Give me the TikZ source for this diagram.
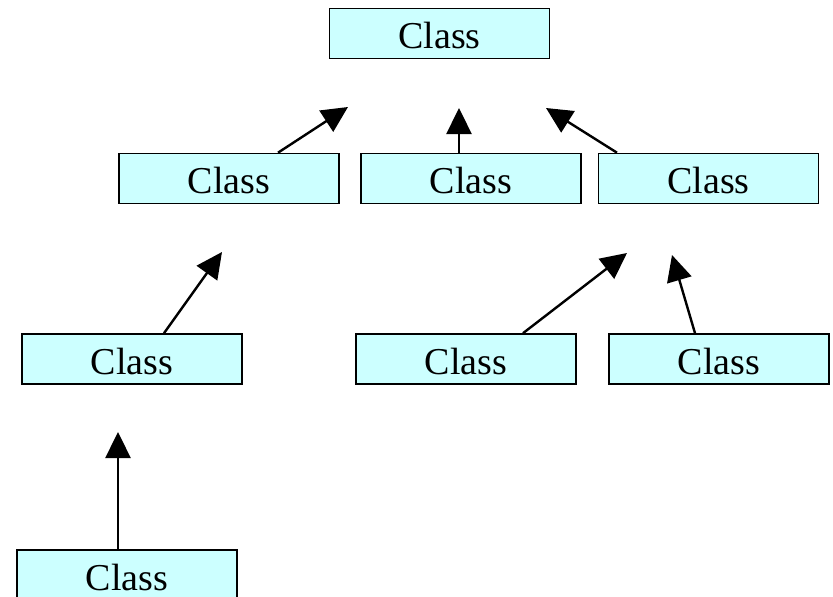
\documentclass[tikz,border=0pt]{standalone}
\usepackage{fontspec}
\setmainfont{Liberation Serif}
\usetikzlibrary{arrows.meta}
\definecolor{boxfill}{HTML}{CCFFFF}
\begin{document}
\begin{tikzpicture}[x=1pt,y=-1pt,
  classbox/.style={draw=black, line width=1.6pt, fill=boxfill, minimum width=220pt, minimum height=50pt, inner sep=0pt, text height=30pt, text depth=0pt, font=\fontsize{38}{40}\selectfont},
  inherit/.style={line width=2.4pt, -{Triangle[length=26pt,width=25pt]}}]
\useasboundingbox (0,0) rectangle (833,597);
\node[classbox] (top) at (439.5,33.5) {Class};
\node[classbox] (b1) at (229,178.5) {Class};
\node[classbox] (b2) at (471,178.5) {Class};
\node[classbox] (b3) at (708.5,178.5) {Class};
\node[classbox] (c1) at (132,359) {Class};
\node[classbox] (c2) at (466,359) {Class};
\node[classbox] (c3) at (719,359) {Class};
\node[classbox] (d1) at (127,575) {Class};
\coordinate (tb1) at (348,107);
\coordinate (tb2) at (459,108);
\coordinate (tb3) at (546,108);
\coordinate (tc1) at (222,252);
\coordinate (tc2) at (627,253);
\coordinate (tc3) at (672,255);
\coordinate (td1) at (118,432);
\draw[inherit] ([xshift=49pt]b1.north) -- (tb1);
\draw[inherit] ([xshift=-12pt]b2.north) -- (tb2);
\draw[inherit] ([xshift=-91.5pt]b3.north) -- (tb3);
\draw[inherit] ([xshift=32pt]c1.north) -- (tc1);
\draw[inherit] ([xshift=57pt]c2.north) -- (tc2);
\draw[inherit] ([xshift=-24pt]c3.north) -- (tc3);
\draw[inherit] ([xshift=-9pt]d1.north) -- (td1);
\end{tikzpicture}
\end{document}
